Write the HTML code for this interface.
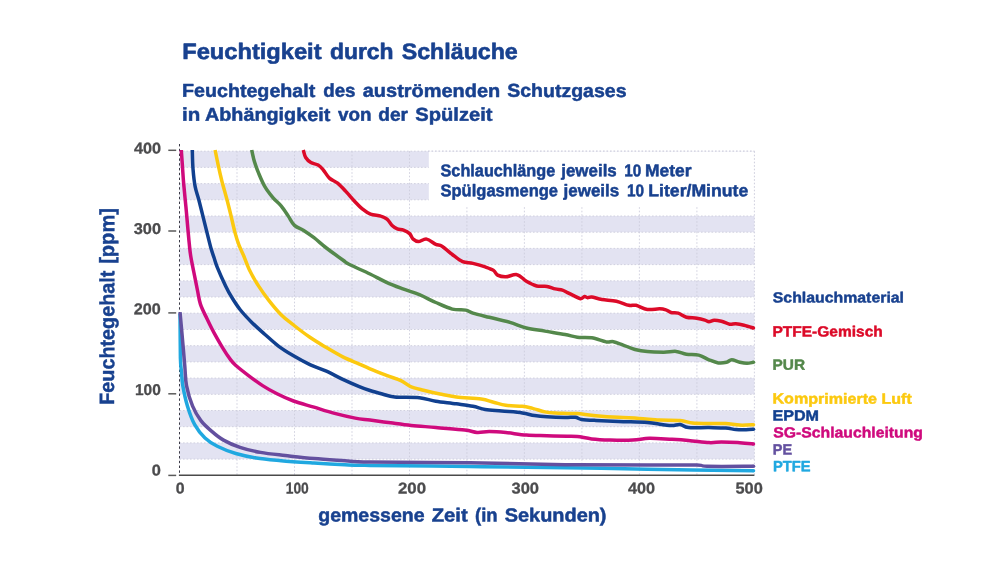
<!DOCTYPE html>
<html lang="de">
<head>
<meta charset="utf-8">
<title>Feuchtigkeit durch Schläuche</title>
<style>
html,body{margin:0;padding:0;background:#fff;}
body{width:1000px;height:583px;overflow:hidden;font-family:"Liberation Sans",sans-serif;}
svg{display:block;}
svg text{font-family:"Liberation Sans",sans-serif;font-weight:bold;}
</style>
</head>
<body>
<svg width="1000" height="583" viewBox="0 0 1000 583">
<rect width="1000" height="583" fill="#ffffff"/>
<rect x="179.5" y="442.9" width="574.9" height="16.2" fill="#e3e3f2"/>
<rect x="179.5" y="410.5" width="574.9" height="16.2" fill="#e3e3f2"/>
<rect x="179.5" y="378.1" width="574.9" height="16.2" fill="#e3e3f2"/>
<rect x="179.5" y="345.7" width="574.9" height="16.2" fill="#e3e3f2"/>
<rect x="179.5" y="313.2" width="574.9" height="16.2" fill="#e3e3f2"/>
<rect x="179.5" y="280.8" width="574.9" height="16.2" fill="#e3e3f2"/>
<rect x="179.5" y="248.4" width="574.9" height="16.2" fill="#e3e3f2"/>
<rect x="179.5" y="216.0" width="574.9" height="16.2" fill="#e3e3f2"/>
<rect x="179.5" y="183.6" width="574.9" height="16.2" fill="#e3e3f2"/>
<rect x="179.5" y="151.2" width="574.9" height="16.2" fill="#e3e3f2"/>
<path d="M179.5 459.1H754.4M179.5 442.9H754.4M179.5 426.7H754.4M179.5 410.5H754.4M179.5 394.3H754.4M179.5 378.1H754.4M179.5 361.9H754.4M179.5 345.7H754.4M179.5 329.5H754.4M179.5 313.2H754.4M179.5 297.0H754.4M179.5 280.8H754.4M179.5 264.6H754.4M179.5 248.4H754.4M179.5 232.2H754.4M179.5 216.0H754.4M179.5 199.8H754.4M179.5 183.6H754.4M179.5 167.4H754.4M179.5 151.2H754.4M237.0 151.2V475.3M294.5 151.2V475.3M352.0 151.2V475.3M409.5 151.2V475.3M466.9 151.2V475.3M524.4 151.2V475.3M581.9 151.2V475.3M639.4 151.2V475.3M696.9 151.2V475.3M754.4 151.2V475.3" stroke="#cdcddc" stroke-width="0.9" stroke-dasharray="1.6 1.9" fill="none"/>
<rect x="428.8" y="151.3" width="328.6" height="54.7" fill="#fff"/>
<path d="M754.4 151.2V207.0M428 151.2H754.4" stroke="#cdcddc" stroke-width="1" stroke-dasharray="1.6 1.9" fill="none"/>
<path d="M179.5 144V475.3" stroke="#3a3a46" stroke-width="1.0" stroke-dasharray="2.4 2.4" fill="none"/>
<path d="M303.3 150.0C303.7 151.2 304.4 155.4 305.7 157.5C307.0 159.6 308.8 161.3 310.9 162.6C313.0 163.9 316.1 163.9 318.1 165.1C320.2 166.3 321.3 167.6 323.2 169.8C325.1 172.0 327.0 175.9 329.4 178.1C331.8 180.3 334.9 181.0 337.6 183.2C340.3 185.4 343.1 188.5 345.8 191.4C348.6 194.3 351.4 197.8 354.1 200.7C356.9 203.6 359.6 206.7 362.3 208.9C365.0 211.1 367.4 212.9 370.5 214.1C373.6 215.3 378.1 215.2 380.8 216.1C383.6 216.9 385.1 217.6 387.0 219.2C388.9 220.8 390.4 223.8 392.1 225.4C393.8 227.0 395.4 228.1 397.3 228.9C399.2 229.7 401.4 229.3 403.5 230.1C405.6 230.9 408.0 232.1 409.6 233.6C411.2 235.1 411.7 237.8 413.2 239.1C414.7 240.4 416.2 241.6 418.4 241.6C420.6 241.6 423.7 238.6 426.6 239.1C429.5 239.6 433.2 243.1 435.8 244.3C438.4 245.5 439.2 244.6 442.0 246.3C444.8 248.0 448.9 251.9 452.3 254.5C455.7 257.1 459.2 260.2 462.6 261.7C466.0 263.2 469.1 262.5 472.9 263.4C476.7 264.3 481.8 265.7 485.2 266.9C488.6 268.1 491.4 269.0 493.5 270.4C495.6 271.8 495.6 274.0 497.6 275.1C499.7 276.2 502.6 276.9 505.8 276.8C509.1 276.7 513.7 273.9 517.1 274.7C520.5 275.4 523.1 279.4 526.4 281.3C529.7 283.2 533.3 285.1 536.7 286.0C540.1 286.9 543.9 285.9 547.0 286.4C550.1 286.9 552.6 288.3 555.2 288.9C557.8 289.5 560.4 289.5 562.4 290.1C564.4 290.7 565.7 291.7 567.5 292.6C569.3 293.5 571.1 294.4 573.2 295.4C575.4 296.4 578.5 298.5 580.4 298.7C582.3 298.9 583.3 296.8 584.5 296.6C585.7 296.4 586.4 297.6 587.6 297.7C588.8 297.8 589.3 296.7 591.7 297.0C594.1 297.3 597.9 298.8 602.0 299.5C606.1 300.2 611.9 300.2 616.4 301.2C620.9 302.2 625.5 304.6 628.8 305.3C632.1 306.0 632.9 304.6 636.0 305.3C639.1 306.0 643.3 308.8 647.3 309.4C651.2 310.0 656.6 308.7 659.7 308.8C662.8 308.9 663.9 309.2 665.8 309.8C667.7 310.4 668.9 311.9 671.0 312.5C673.1 313.1 675.6 312.3 678.2 313.1C680.8 313.9 683.3 316.4 686.4 317.2C689.5 318.0 693.6 317.7 696.7 318.2C699.8 318.7 702.9 319.5 704.9 320.1C706.9 320.7 707.5 321.7 709.0 321.7C710.5 321.7 712.1 320.4 714.2 320.3C716.3 320.2 718.8 320.7 721.4 321.3C724.0 321.9 727.2 323.8 729.6 324.2C732.0 324.6 733.4 323.6 735.8 323.8C738.2 324.0 741.0 324.5 744.0 325.2C747.0 325.9 751.9 327.5 753.5 328.0" stroke="#dc0a28" stroke-width="3.5" fill="none" stroke-linecap="butt" stroke-linejoin="round"/>
<circle cx="753.5" cy="328.0" r="1.75" fill="#dc0a28"/>
<path d="M251.7 150.0C252.1 151.9 253.3 157.8 254.4 161.6C255.5 165.4 256.8 168.8 258.5 172.9C260.2 177.0 262.3 182.2 264.7 186.3C267.1 190.4 270.2 194.3 272.9 197.6C275.6 200.8 278.5 202.7 281.1 205.8C283.7 208.9 286.1 212.8 288.3 216.1C290.5 219.4 291.9 223.0 294.5 225.4C297.1 227.8 300.4 228.4 303.7 230.5C306.9 232.6 310.2 234.8 314.0 237.7C317.8 240.6 321.6 244.3 326.4 248.0C331.2 251.7 339.0 257.3 342.8 260.0C346.6 262.7 344.5 262.0 349.0 264.3C353.5 266.6 363.8 271.0 370.0 274.0C376.2 277.0 381.0 279.8 386.5 282.3C392.0 284.8 397.4 286.8 402.9 288.9C408.4 291.0 413.9 292.4 419.4 294.7C424.9 297.0 430.3 300.1 435.8 302.5C441.3 304.9 447.3 307.8 452.3 309.1C457.3 310.4 462.3 309.4 465.7 310.1C469.1 310.8 469.0 312.0 472.9 313.2C476.8 314.4 483.1 315.8 489.3 317.3C495.5 318.8 503.7 320.6 509.9 322.4C516.1 324.2 520.6 326.6 526.4 328.0C532.2 329.4 538.5 330.0 544.9 331.1C551.3 332.2 559.6 333.5 565.0 334.5C570.4 335.5 572.8 336.6 577.3 337.2C581.8 337.8 586.9 337.0 591.7 337.8C596.5 338.6 602.6 341.2 606.2 341.9C609.8 342.5 610.7 341.2 613.4 341.7C616.1 342.2 619.0 343.5 622.6 344.8C626.2 346.1 630.9 348.4 635.0 349.5C639.1 350.6 642.5 351.2 647.3 351.6C652.1 352.1 659.0 352.2 663.8 352.2C668.6 352.2 672.3 351.1 676.1 351.4C679.9 351.7 682.6 353.6 686.4 354.2C690.2 354.8 694.9 354.2 698.7 355.1C702.5 356.0 705.7 358.5 709.0 359.8C712.3 361.1 715.4 362.5 718.3 362.9C721.2 363.3 724.3 362.8 726.5 362.3C728.7 361.8 729.5 359.8 731.7 359.8C733.9 359.8 737.3 361.7 739.9 362.3C742.5 362.9 744.8 363.3 747.1 363.3C749.4 363.3 752.4 362.4 753.5 362.3" stroke="#54884b" stroke-width="3.5" fill="none" stroke-linecap="butt" stroke-linejoin="round"/>
<circle cx="753.5" cy="362.3" r="1.75" fill="#54884b"/>
<path d="M215.1 150.0C215.6 152.4 217.0 159.5 218.1 164.7C219.2 169.9 220.4 175.4 221.9 181.2C223.4 187.0 225.5 193.9 227.0 199.7C228.5 205.5 229.8 210.6 231.1 216.1C232.4 221.6 233.7 227.8 235.0 232.6C236.3 237.4 237.4 240.9 238.9 244.9C240.4 248.9 242.3 252.4 244.0 256.5C245.7 260.6 246.8 264.5 249.2 269.4C251.6 274.3 255.2 280.8 258.5 285.9C261.8 291.0 265.0 295.5 268.8 300.3C272.6 305.1 277.0 310.6 281.1 314.7C285.2 318.8 288.7 321.2 293.5 325.0C298.3 328.8 304.4 333.5 309.9 337.3C315.4 341.1 320.9 344.3 326.4 347.6C331.9 350.9 337.3 354.1 342.8 356.9C348.3 359.6 354.8 362.1 359.3 364.1C363.8 366.1 365.5 366.9 370.0 368.8C374.5 370.7 381.4 373.4 386.5 375.4C391.6 377.4 397.0 378.8 400.9 380.6C404.8 382.4 406.3 384.7 410.1 386.3C413.9 387.9 418.5 388.9 423.5 390.2C428.5 391.5 434.5 392.9 440.0 394.0C445.5 395.1 449.5 396.1 456.4 397.0C463.2 397.9 474.9 398.2 481.1 399.1C487.3 400.0 489.4 401.2 493.5 402.2C497.6 403.2 501.0 404.6 505.8 405.3C510.6 406.0 517.8 405.8 522.3 406.3C526.8 406.8 528.8 407.5 532.6 408.4C536.4 409.3 541.1 411.1 544.9 411.9C548.7 412.7 551.5 412.9 555.2 413.1C558.9 413.4 563.3 413.3 567.0 413.4C570.7 413.5 572.5 413.2 577.3 413.6C582.1 414.0 589.0 415.1 595.9 415.7C602.8 416.3 611.3 416.9 618.5 417.3C625.7 417.8 632.2 417.9 639.1 418.4C646.0 418.8 652.9 419.7 659.7 420.0C666.6 420.3 674.7 419.9 680.2 420.4C685.7 420.9 687.8 422.6 692.6 423.1C697.4 423.6 703.5 423.4 709.0 423.5C714.5 423.6 720.4 423.2 725.5 423.5C730.6 423.8 735.2 424.9 739.9 425.1C744.6 425.3 751.2 424.8 753.5 424.7" stroke="#fcc90f" stroke-width="3.5" fill="none" stroke-linecap="butt" stroke-linejoin="round"/>
<circle cx="753.5" cy="424.7" r="1.75" fill="#fcc90f"/>
<path d="M192.3 150.0C192.4 153.1 192.5 162.8 193.0 168.8C193.5 174.9 194.1 181.2 195.1 186.3C196.1 191.5 197.5 194.7 198.8 199.7C200.1 204.7 201.5 210.6 202.9 216.1C204.3 221.6 205.6 227.1 207.0 232.6C208.4 238.1 210.0 244.9 211.2 249.1C212.4 253.2 213.0 254.5 214.0 257.5C215.0 260.5 215.4 262.6 217.3 267.3C219.2 272.0 223.2 280.9 225.6 285.9C228.0 290.9 229.3 293.3 231.7 297.2C234.1 301.1 236.6 305.2 240.0 309.5C243.4 313.8 248.2 318.8 252.3 322.9C256.4 327.0 260.2 330.2 264.7 334.2C269.2 338.1 274.3 343.0 279.1 346.6C283.9 350.2 288.4 352.8 293.5 355.8C298.6 358.8 304.4 362.0 309.9 364.6C315.4 367.2 320.9 368.7 326.4 371.2C331.9 373.7 337.3 376.8 342.8 379.4C348.3 382.0 354.8 384.8 359.3 386.6C363.8 388.5 366.2 389.3 370.0 390.5C373.8 391.7 378.2 392.9 382.3 394.0C386.4 395.1 388.5 396.4 394.7 397.0C400.9 397.6 412.5 397.0 419.4 397.7C426.2 398.4 429.6 400.2 435.8 401.2C442.0 402.2 450.2 402.9 456.4 403.8C462.6 404.7 468.1 405.4 472.9 406.3C477.7 407.2 480.4 408.6 485.2 409.4C490.0 410.2 495.5 410.4 501.7 411.0C507.9 411.6 516.8 412.1 522.3 412.9C527.8 413.7 530.5 415.0 534.6 415.6C538.7 416.2 541.9 416.5 547.0 416.8C552.1 417.1 560.3 417.4 565.0 417.5C569.7 417.6 572.5 417.0 575.3 417.3C578.0 417.6 578.1 418.9 581.5 419.4C584.9 419.9 589.7 420.1 595.9 420.4C602.1 420.7 609.9 421.0 618.5 421.4C627.1 421.8 640.1 422.0 647.3 422.5C654.5 423.0 657.6 424.0 661.7 424.5C665.8 425.0 668.9 425.6 672.0 425.6C675.1 425.6 677.5 424.2 680.2 424.5C683.0 424.8 683.7 427.1 688.5 427.6C693.3 428.1 702.8 427.5 709.0 427.6C715.2 427.7 721.0 427.7 725.5 428.0C730.0 428.3 732.4 429.2 735.8 429.5C739.2 429.8 743.1 429.8 746.1 429.7C749.1 429.6 752.3 429.3 753.5 429.2" stroke="#11408f" stroke-width="3.5" fill="none" stroke-linecap="butt" stroke-linejoin="round"/>
<circle cx="753.5" cy="429.2" r="1.75" fill="#11408f"/>
<path d="M181.3 150.0C181.5 152.8 182.1 161.3 182.5 167.0C182.9 172.7 183.1 177.4 183.7 184.0C184.3 190.6 185.2 199.4 185.9 206.7C186.6 214.0 187.2 221.9 187.8 228.0C188.4 234.1 188.7 238.5 189.2 243.0C189.7 247.5 189.8 250.4 190.6 255.2C191.3 259.9 192.5 265.4 193.7 271.5C194.9 277.6 196.7 286.5 197.8 292.0C198.9 297.5 199.0 299.9 200.5 304.4C202.0 308.9 204.7 314.0 207.0 318.8C209.3 323.6 211.6 328.4 214.2 333.2C216.8 338.0 219.8 343.2 222.5 347.6C225.2 352.1 228.4 356.8 230.7 359.9C233.0 363.0 233.6 363.4 236.5 366.0C239.4 368.6 243.8 372.0 248.2 375.3C252.5 378.6 257.8 382.5 262.6 385.6C267.4 388.7 271.9 391.2 277.0 393.8C282.1 396.4 287.3 398.8 293.5 401.0C299.7 403.2 307.1 405.1 314.0 407.2C320.9 409.3 327.7 411.6 334.6 413.4C341.5 415.2 349.3 417.0 355.2 418.1C361.1 419.2 364.1 419.3 370.0 420.1C375.9 420.9 383.7 421.9 390.6 422.8C397.5 423.7 403.7 424.6 411.2 425.4C418.7 426.2 426.9 426.7 435.8 427.5C444.7 428.3 457.8 429.2 464.7 430.0C471.6 430.8 472.9 432.1 477.0 432.4C481.1 432.7 484.5 431.6 489.3 431.6C494.1 431.6 499.6 432.0 505.8 432.6C512.0 433.2 519.5 434.6 526.4 435.1C533.3 435.6 540.2 435.5 547.0 435.7C553.8 435.9 562.0 436.1 567.0 436.2C572.0 436.3 573.2 436.1 577.3 436.5C581.4 436.9 586.2 438.3 591.7 438.9C597.2 439.5 603.4 439.8 610.3 440.0C617.2 440.2 626.4 440.3 632.9 440.0C639.4 439.7 642.9 438.4 649.4 438.3C655.9 438.2 665.5 439.0 672.0 439.3C678.5 439.6 682.3 439.8 688.5 440.4C694.7 440.9 703.5 442.3 709.0 442.6C714.5 442.9 716.6 442.0 721.4 442.0C726.2 442.0 732.4 442.2 737.8 442.6C743.1 443.0 750.9 443.9 753.5 444.1" stroke="#cf0a7d" stroke-width="3.5" fill="none" stroke-linecap="butt" stroke-linejoin="round"/>
<circle cx="753.5" cy="444.1" r="1.75" fill="#cf0a7d"/>
<path d="M180.0 313.5C180.1 320.9 180.2 348.1 180.4 357.9C180.7 367.6 181.1 367.4 181.5 372.0C181.9 376.6 181.8 379.9 182.8 385.6C183.8 391.3 185.5 399.7 187.5 406.2C189.5 412.7 191.8 419.4 194.7 424.7C197.6 430.0 201.2 434.4 205.0 438.0C208.8 441.6 212.2 443.7 217.3 446.3C222.4 448.9 229.3 451.6 235.8 453.5C242.3 455.4 248.8 456.8 256.4 458.0C263.9 459.2 271.5 459.8 281.1 460.7C290.7 461.6 303.4 462.4 314.0 463.1C324.6 463.8 335.6 464.4 344.9 464.8C354.2 465.2 349.1 465.1 370.0 465.4C390.9 465.7 437.5 466.1 470.0 466.5C502.5 466.9 535.5 467.2 565.0 467.7C594.5 468.1 615.9 468.7 647.3 469.2C678.7 469.7 735.8 470.5 753.5 470.8" stroke="#20a8e0" stroke-width="3.5" fill="none" stroke-linecap="butt" stroke-linejoin="round"/>
<circle cx="753.5" cy="470.8" r="1.75" fill="#20a8e0"/>
<path d="M180.0 312.2C180.4 316.4 181.5 328.3 182.3 337.3C183.1 346.3 184.1 358.1 184.8 366.1C185.5 374.2 185.2 378.9 186.5 385.6C187.8 392.3 190.2 400.4 192.6 406.2C195.0 412.0 197.8 416.5 200.9 420.6C204.0 424.7 207.4 427.6 211.2 430.8C215.0 434.1 218.7 437.4 223.5 440.1C228.3 442.9 233.8 445.2 240.0 447.3C246.2 449.4 253.0 451.0 260.5 452.4C268.0 453.8 276.3 454.5 285.2 455.5C294.1 456.5 304.1 457.7 314.0 458.6C323.9 459.5 335.6 460.1 344.9 460.7C354.2 461.3 349.1 461.6 370.0 462.0C390.9 462.4 437.5 462.4 470.0 462.8C502.5 463.2 535.5 464.3 565.0 464.7C594.5 465.1 625.3 465.0 647.3 465.1C669.2 465.2 686.8 464.9 696.7 465.1C706.7 465.3 697.5 466.1 707.0 466.3C716.5 466.5 745.8 466.3 753.5 466.3" stroke="#63509f" stroke-width="3.5" fill="none" stroke-linecap="butt" stroke-linejoin="round"/>
<circle cx="753.5" cy="466.3" r="1.75" fill="#63509f"/>
<path d="M178.9 475.3H754.4" stroke="#4a4a4a" stroke-width="1.5" fill="none"/>
<path d="M168.3 475.4H176.2" stroke="#5a5a5a" stroke-width="1.5" fill="none"/>
<path d="M168.3 393.8H176.2" stroke="#5a5a5a" stroke-width="1.5" fill="none"/>
<path d="M168.3 312.9H176.2" stroke="#5a5a5a" stroke-width="1.5" fill="none"/>
<path d="M168.3 231.0H176.2" stroke="#5a5a5a" stroke-width="1.5" fill="none"/>
<path d="M168.3 150.3H176.2" stroke="#5a5a5a" stroke-width="1.5" fill="none"/>
<g opacity="0.999">
<text transform="translate(182.25 59.00) rotate(0.05)" font-size="22.30" fill="#18418f" stroke="#18418f" stroke-width="0.60" stroke-linejoin="round" textLength="139.26" lengthAdjust="spacingAndGlyphs">Feuchtigkeit</text>
<text transform="translate(330.00 59.00) rotate(0.05)" font-size="22.30" fill="#18418f" stroke="#18418f" stroke-width="0.60" stroke-linejoin="round" textLength="63.55" lengthAdjust="spacingAndGlyphs">durch</text>
<text transform="translate(401.75 59.00) rotate(0.05)" font-size="22.30" fill="#18418f" stroke="#18418f" stroke-width="0.60" stroke-linejoin="round" textLength="116.01" lengthAdjust="spacingAndGlyphs">Schläuche</text>
<text transform="translate(182.00 96.85) rotate(0.05)" font-size="18.60" fill="#18418f" stroke="#18418f" stroke-width="0.50" stroke-linejoin="round" textLength="133.26" lengthAdjust="spacingAndGlyphs">Feuchtegehalt</text>
<text transform="translate(323.25 96.85) rotate(0.05)" font-size="18.60" fill="#18418f" stroke="#18418f" stroke-width="0.50" stroke-linejoin="round" textLength="32.27" lengthAdjust="spacingAndGlyphs">des</text>
<text transform="translate(362.75 96.85) rotate(0.05)" font-size="18.60" fill="#18418f" stroke="#18418f" stroke-width="0.50" stroke-linejoin="round" textLength="137.51" lengthAdjust="spacingAndGlyphs">auströmenden</text>
<text transform="translate(507.25 96.85) rotate(0.05)" font-size="18.60" fill="#18418f" stroke="#18418f" stroke-width="0.50" stroke-linejoin="round" textLength="119.26" lengthAdjust="spacingAndGlyphs">Schutzgases</text>
<text transform="translate(182.00 120.80) rotate(0.05)" font-size="18.60" fill="#18418f" stroke="#18418f" stroke-width="0.50" stroke-linejoin="round" textLength="18.25" lengthAdjust="spacingAndGlyphs">in</text>
<text transform="translate(205.00 120.80) rotate(0.05)" font-size="18.60" fill="#18418f" stroke="#18418f" stroke-width="0.50" stroke-linejoin="round" textLength="125.25" lengthAdjust="spacingAndGlyphs">Abhängigkeit</text>
<text transform="translate(338.00 120.80) rotate(0.05)" font-size="18.60" fill="#18418f" stroke="#18418f" stroke-width="0.50" stroke-linejoin="round" textLength="33.52" lengthAdjust="spacingAndGlyphs">von</text>
<text transform="translate(378.25 120.80) rotate(0.05)" font-size="18.60" fill="#18418f" stroke="#18418f" stroke-width="0.50" stroke-linejoin="round" textLength="29.76" lengthAdjust="spacingAndGlyphs">der</text>
<text transform="translate(415.25 120.80) rotate(0.05)" font-size="18.60" fill="#18418f" stroke="#18418f" stroke-width="0.50" stroke-linejoin="round" textLength="77.25" lengthAdjust="spacingAndGlyphs">Spülzeit</text>
<text transform="translate(440.50 176.20) rotate(0.05)" font-size="17.00" fill="#18418f" stroke="#18418f" stroke-width="0.50" stroke-linejoin="round" textLength="114.75" lengthAdjust="spacingAndGlyphs">Schlauchlänge</text>
<text transform="translate(561.25 176.20) rotate(0.05)" font-size="17.00" fill="#18418f" stroke="#18418f" stroke-width="0.50" stroke-linejoin="round" textLength="55.50" lengthAdjust="spacingAndGlyphs">jeweils</text>
<text transform="translate(624.25 176.20) rotate(0.05)" font-size="17.00" fill="#18418f" stroke="#18418f" stroke-width="0.50" stroke-linejoin="round" textLength="17.07" lengthAdjust="spacingAndGlyphs">10</text>
<text transform="translate(645.00 176.20) rotate(0.05)" font-size="17.00" fill="#18418f" stroke="#18418f" stroke-width="0.50" stroke-linejoin="round" textLength="46.51" lengthAdjust="spacingAndGlyphs">Meter</text>
<text transform="translate(440.50 196.20) rotate(0.05)" font-size="17.00" fill="#18418f" stroke="#18418f" stroke-width="0.50" stroke-linejoin="round" textLength="117.50" lengthAdjust="spacingAndGlyphs">Spülgasmenge</text>
<text transform="translate(563.50 196.20) rotate(0.05)" font-size="17.00" fill="#18418f" stroke="#18418f" stroke-width="0.50" stroke-linejoin="round" textLength="55.75" lengthAdjust="spacingAndGlyphs">jeweils</text>
<text transform="translate(627.00 196.20) rotate(0.05)" font-size="17.00" fill="#18418f" stroke="#18418f" stroke-width="0.50" stroke-linejoin="round" textLength="17.09" lengthAdjust="spacingAndGlyphs">10</text>
<text transform="translate(648.25 196.20) rotate(0.05)" font-size="17.00" fill="#18418f" stroke="#18418f" stroke-width="0.50" stroke-linejoin="round" textLength="100.02" lengthAdjust="spacingAndGlyphs">Liter/Minute</text>
<text transform="translate(318.25 521.50) rotate(0.05)" font-size="18.90" fill="#18418f" stroke="#18418f" stroke-width="0.50" stroke-linejoin="round" textLength="106.26" lengthAdjust="spacingAndGlyphs">gemessene</text>
<text transform="translate(431.75 521.50) rotate(0.05)" font-size="18.90" fill="#18418f" stroke="#18418f" stroke-width="0.50" stroke-linejoin="round" textLength="36.00" lengthAdjust="spacingAndGlyphs">Zeit</text>
<text transform="translate(475.00 521.50) rotate(0.05)" font-size="18.90" fill="#18418f" stroke="#18418f" stroke-width="0.50" stroke-linejoin="round" textLength="22.60" lengthAdjust="spacingAndGlyphs">(in</text>
<text transform="translate(504.75 521.50) rotate(0.05)" font-size="18.90" fill="#18418f" stroke="#18418f" stroke-width="0.50" stroke-linejoin="round" textLength="101.76" lengthAdjust="spacingAndGlyphs">Sekunden)</text>
<text transform="translate(134.00 153.40) rotate(0.05)" font-size="15.60" fill="#4b4b4d" stroke="#4b4b4d" stroke-width="0.30" stroke-linejoin="round" textLength="27.01" lengthAdjust="spacingAndGlyphs">400</text>
<text transform="translate(133.75 233.90) rotate(0.05)" font-size="15.60" fill="#4b4b4d" stroke="#4b4b4d" stroke-width="0.30" stroke-linejoin="round" textLength="27.27" lengthAdjust="spacingAndGlyphs">300</text>
<text transform="translate(133.75 314.30) rotate(0.05)" font-size="15.60" fill="#4b4b4d" stroke="#4b4b4d" stroke-width="0.30" stroke-linejoin="round" textLength="27.02" lengthAdjust="spacingAndGlyphs">200</text>
<text transform="translate(135.00 395.00) rotate(0.05)" font-size="15.60" fill="#4b4b4d" stroke="#4b4b4d" stroke-width="0.30" stroke-linejoin="round" textLength="25.82" lengthAdjust="spacingAndGlyphs">100</text>
<text transform="translate(151.75 475.50) rotate(0.05)" font-size="15.60" fill="#4b4b4d" stroke="#4b4b4d" stroke-width="0.30" stroke-linejoin="round" textLength="9.11" lengthAdjust="spacingAndGlyphs">0</text>
<text transform="translate(175.75 493.50) rotate(0.05)" font-size="15.60" fill="#4b4b4d" stroke="#4b4b4d" stroke-width="0.30" stroke-linejoin="round" textLength="8.83" lengthAdjust="spacingAndGlyphs">0</text>
<text transform="translate(285.75 493.50) rotate(0.05)" font-size="15.60" fill="#4b4b4d" stroke="#4b4b4d" stroke-width="0.30" stroke-linejoin="round" textLength="23.05" lengthAdjust="spacingAndGlyphs">100</text>
<text transform="translate(398.00 493.50) rotate(0.05)" font-size="15.60" fill="#4b4b4d" stroke="#4b4b4d" stroke-width="0.30" stroke-linejoin="round" textLength="28.03" lengthAdjust="spacingAndGlyphs">200</text>
<text transform="translate(511.50 493.50) rotate(0.05)" font-size="15.60" fill="#4b4b4d" stroke="#4b4b4d" stroke-width="0.30" stroke-linejoin="round" textLength="27.52" lengthAdjust="spacingAndGlyphs">300</text>
<text transform="translate(628.00 493.50) rotate(0.05)" font-size="15.60" fill="#4b4b4d" stroke="#4b4b4d" stroke-width="0.30" stroke-linejoin="round" textLength="27.01" lengthAdjust="spacingAndGlyphs">400</text>
<text transform="translate(735.50 493.50) rotate(0.05)" font-size="15.60" fill="#4b4b4d" stroke="#4b4b4d" stroke-width="0.30" stroke-linejoin="round" textLength="27.27" lengthAdjust="spacingAndGlyphs">500</text>
<text transform="translate(772.75 302.50) rotate(0.05)" font-size="14.80" fill="#18418f" stroke="#18418f" stroke-width="0.45" stroke-linejoin="round" textLength="131.26" lengthAdjust="spacingAndGlyphs">Schlauchmaterial</text>
<text transform="translate(772.50 336.40) rotate(0.05)" font-size="14.80" fill="#dc0a28" stroke="#dc0a28" stroke-width="0.45" stroke-linejoin="round" textLength="110.27" lengthAdjust="spacingAndGlyphs">PTFE-Gemisch</text>
<text transform="translate(772.50 369.80) rotate(0.05)" font-size="14.80" fill="#54884b" stroke="#54884b" stroke-width="0.45" stroke-linejoin="round" textLength="32.53" lengthAdjust="spacingAndGlyphs">PUR</text>
<text transform="translate(772.50 403.60) rotate(0.05)" font-size="14.80" fill="#fcc90f" stroke="#fcc90f" stroke-width="0.45" stroke-linejoin="round" textLength="139.25" lengthAdjust="spacingAndGlyphs">Komprimierte Luft</text>
<text transform="translate(772.50 420.60) rotate(0.05)" font-size="14.80" fill="#11408f" stroke="#11408f" stroke-width="0.45" stroke-linejoin="round" textLength="46.56" lengthAdjust="spacingAndGlyphs">EPDM</text>
<text transform="translate(773.25 437.40) rotate(0.05)" font-size="14.80" fill="#cf0a7d" stroke="#cf0a7d" stroke-width="0.45" stroke-linejoin="round" textLength="149.76" lengthAdjust="spacingAndGlyphs">SG-Schlauchleitung</text>
<text transform="translate(772.75 454.40) rotate(0.05)" font-size="14.80" fill="#63509f" stroke="#63509f" stroke-width="0.45" stroke-linejoin="round" textLength="19.30" lengthAdjust="spacingAndGlyphs">PE</text>
<text transform="translate(773.00 471.30) rotate(0.05)" font-size="14.80" fill="#20a8e0" stroke="#20a8e0" stroke-width="0.45" stroke-linejoin="round" textLength="37.53" lengthAdjust="spacingAndGlyphs">PTFE</text>
<text transform="translate(114.1 403.7) rotate(-89.95)" x="-1.00" y="0" font-size="20.60" fill="#18418f" stroke="#18418f" stroke-width="0.45" stroke-linejoin="round" textLength="134.01" lengthAdjust="spacingAndGlyphs">Feuchtegehalt</text>
<text transform="translate(114.1 263.1) rotate(-89.95)" x="-0.75" y="0" font-size="20.60" fill="#18418f" stroke="#18418f" stroke-width="0.45" stroke-linejoin="round" textLength="55.80" lengthAdjust="spacingAndGlyphs">[ppm]</text>
</g>
</svg>
</body>
</html>
